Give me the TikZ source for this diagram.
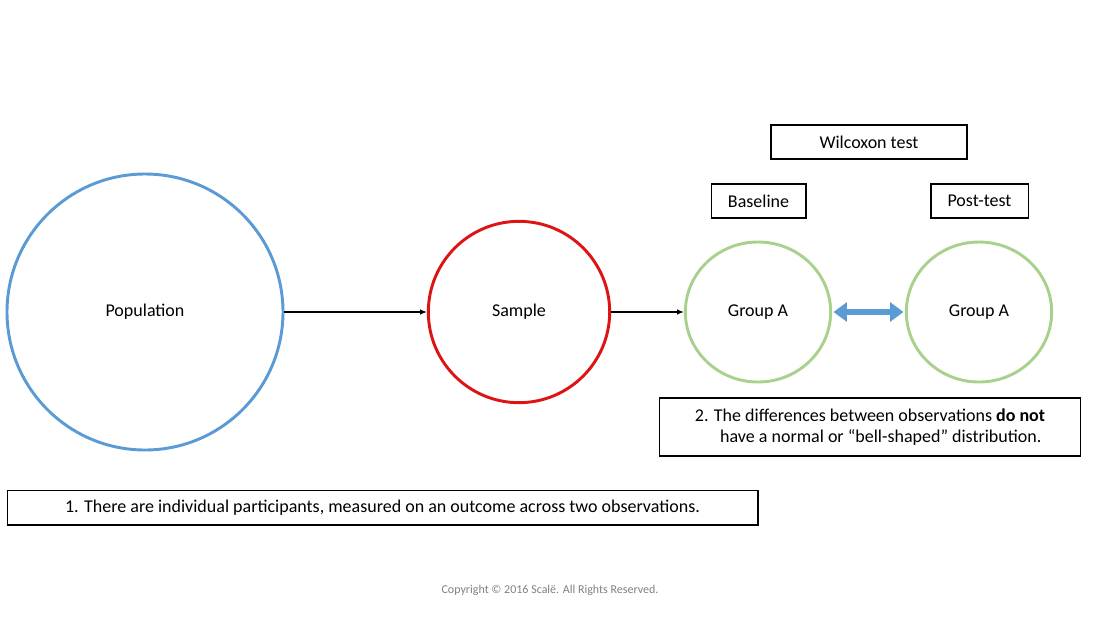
\documentclass[tikz,border=0pt]{standalone}
\usepackage{fontspec}
\setmainfont{Carlito}
\usetikzlibrary{arrows.meta,shapes.geometric}
\definecolor{pblue}{RGB}{91,155,213}
\definecolor{pred}{RGB}{220,20,20}
\definecolor{pgreen}{RGB}{169,209,142}
\begin{document}
\begin{tikzpicture}[x=0.75pt,y=-0.75pt,
  circ/.style={ellipse,draw,line width=2.2pt,inner sep=0pt,font=\fontsize{13.5}{16}\selectfont},
  box/.style={draw,line width=1pt,font=\fontsize{13.5}{16}\selectfont,inner sep=0pt},
  conn/.style={-{Latex[length=5pt,width=4pt]},line width=0.8pt}]
\useasboundingbox (0,0) rectangle (1100,618);
\node[circ,draw=pblue,minimum width=207pt,minimum height=207pt] (pop) at (145,312) {Population};
\node[circ,draw=pred,minimum width=136pt,minimum height=136pt] (smp) at (519,312) {Sample};
\node[circ,draw=pgreen,minimum width=109pt,minimum height=105pt] (ga) at (758,312) {Group A};
\node[circ,draw=pgreen,minimum width=109pt,minimum height=105pt] (gb) at (979,312) {Group A};
\draw[conn] (pop) -- (smp);
\draw[conn] (smp) -- (ga);
\draw[{Triangle[length=10pt,width=14pt]}-{Triangle[length=10pt,width=14pt]},draw=pblue,fill=pblue,line width=4pt,shorten <=1pt,shorten >=1pt] (ga) -- (gb);
\node[box,line width=1.8pt,minimum width=147pt,minimum height=25.5pt] (w) at (869,142) {Wilcoxon test};
\node[box,minimum width=71pt,minimum height=25.5pt] (bl) at (758.5,201) {Baseline};
\node[box,minimum width=73pt,minimum height=25.5pt] (pt) at (979.5,201) {Post-test};
\node[box,minimum width=316pt,minimum height=43.5pt,align=center] (n2) at (870,427)
 {2. The differences between observations \textbf{do not}\\ \hspace*{1.2em}have a normal or “bell-shaped” distribution.};
\node[box,minimum width=563pt,minimum height=26pt] (n1) at (382.5,507.5)
 {1. There are individual participants, measured on an outcome across two observations.};
\node[text=gray,font=\fontsize{9}{11}\selectfont] (c) at (550,590) {Copyright © 2016 Scalë. All Rights Reserved.};
\end{tikzpicture}
\end{document}
